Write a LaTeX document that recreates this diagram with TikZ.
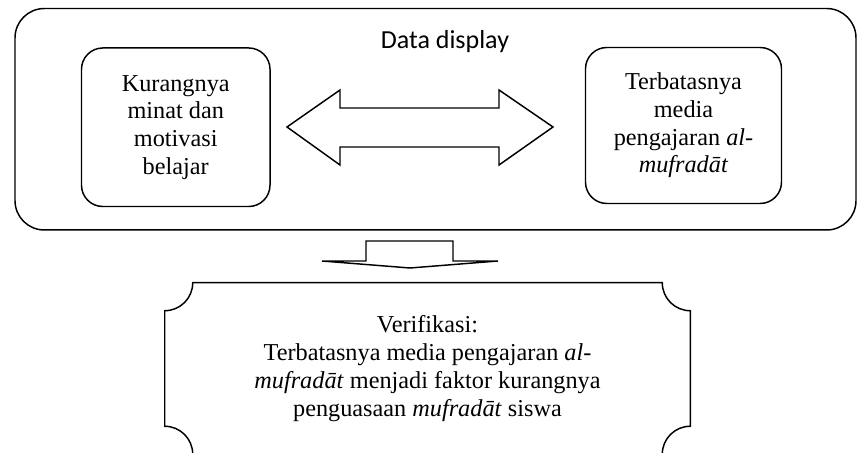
\documentclass[tikz,border=0pt]{standalone}
\usepackage{fontspec}
\setmainfont{Liberation Serif}
\newfontfamily\titlefont{Carlito}
\usetikzlibrary{calc}
\tikzset{
  txt/.style={font=\fontsize{18.2}{20.8}\selectfont, align=center},
  ln/.style={line width=1.1pt},
  outerbox/.style={ln, draw, rounded corners=22pt, inner sep=0pt},
  innerbox/.style={ln, draw, rounded corners=16pt, inner sep=0pt, txt},
  blockarrow/.style={ln, draw, line join=miter}
}
\begin{document}
\begin{tikzpicture}[x=0.75pt,y=0.75pt]
\useasboundingbox (0,0) rectangle (858,453);

% outer "Data display" box
\node[outerbox, minimum width=630.75pt, minimum height=166.1pt] (display) at (435.5,333.75) {};
\node[font=\titlefont\fontsize{19.5}{22}\selectfont, anchor=base] (title) at (445,404.5) {Data display};

% inner boxes
\node[innerbox, minimum width=141.4pt, minimum height=118.9pt] (minat) at (175.75,325.75)
  {Kurangnya\\minat dan\\motivasi\\belajar};
\node[innerbox, minimum width=147pt, minimum height=117pt] (media) at (683.5,327.5)
  {Terbatasnya\\media\\pengajaran \textit{al-}\\\textit{mufradāt}};

% double block arrow
\draw[blockarrow] (287,326) -- (340,363) -- (340,345) -- (499,345) -- (499,363) -- (553,326)
  -- (499,288) -- (499,306) -- (340,306) -- (340,288) -- cycle;

% down block arrow
\draw[blockarrow] (366,212) -- (453,212) -- (453,192) -- (498,192) -- (410,185)
  -- (322,192) -- (366,192) -- cycle;

% verification plaque
\node[txt, minimum width=393.75pt, minimum height=128.25pt, inner sep=0pt] (verif) at (427.5,84.5)
  {Verifikasi:\\Terbatasnya media pengajaran \textit{al-}\\\textit{mufradāt} menjadi faktor kurangnya\\penguasaan \textit{mufradāt} siswa};
\draw[ln]
  ($(verif.north west)+(28,0)$) -- ($(verif.north east)+(-28,0)$)
  arc[start angle=180, end angle=270, radius=21pt]
  -- ($(verif.south east)+(0,28)$)
  arc[start angle=90, end angle=180, radius=21pt]
  -- ($(verif.south west)+(28,0)$)
  arc[start angle=0, end angle=90, radius=21pt]
  -- ($(verif.north west)+(0,-28)$)
  arc[start angle=270, end angle=360, radius=21pt]
  -- cycle;
\end{tikzpicture}
\end{document}
